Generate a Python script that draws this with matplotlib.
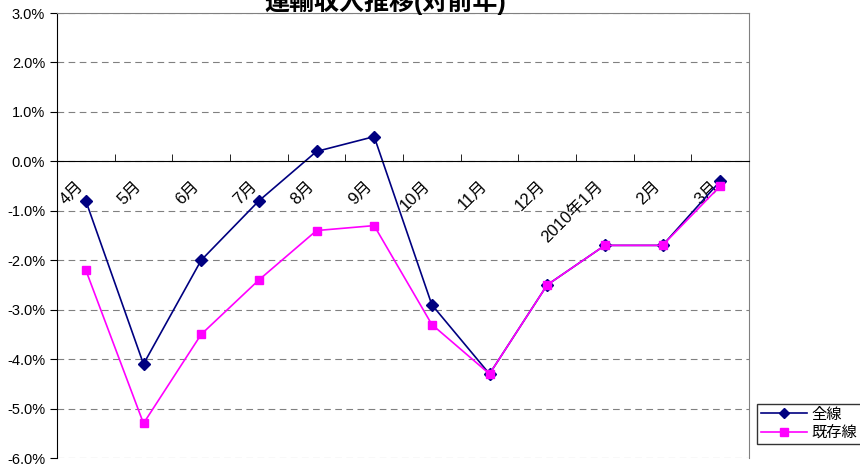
import matplotlib.pyplot as plt
from matplotlib.ticker import FuncFormatter, FixedLocator
import numpy as np

plt.rcParams["font.family"] = ["Liberation Sans", "Noto Sans CJK JP", "DejaVu Sans"]

months = ["4月", "5月", "6月", "7月", "8月", "9月", "10月", "11月", "12月",
          "2010年1月", "2月", "3月"]
zensen = [-0.8, -4.1, -2.0, -0.8, 0.2, 0.5, -2.9, -4.3, -2.5, -1.7, -1.7, -0.4]
kizon = [-2.2, -5.3, -3.5, -2.4, -1.4, -1.3, -3.3, -4.3, -2.5, -1.7, -1.7, -0.5]

fig = plt.figure(figsize=(8.6, 4.66), dpi=100)
ax = fig.add_axes([57 / 860, 1 - 458 / 466, (749 - 57) / 860, (458 - 13) / 466])

x = np.arange(len(months))
ax.plot(x, zensen, color="#000080", marker="D", markersize=6, linewidth=1.2, label="全線")
ax.plot(x, kizon, color="#ff00ff", marker="s", markersize=6, linewidth=1.2, label="既存線")

ax.set_xlim(-0.5, len(months) - 0.5)
ax.set_ylim(-6, 3)
ax.set_yticks(np.arange(-6, 3.01, 1))
ax.yaxis.set_major_formatter(FuncFormatter(lambda v, p: f"{v:.1f}%"))
ax.grid(axis="y", color="#808080", linestyle=(0, (6, 4)), linewidth=0.8)
ax.set_axisbelow(True)

ax.spines["bottom"].set_position(("data", 0))
ax.spines["bottom"].set_color("black")
ax.spines["left"].set_color("black")
for s in ["top", "right"]:
    ax.spines[s].set_color("#808080")

# labels sit a little left of the category centre, as in the original
ax.set_xticks(x - 0.17)
ax.set_xticklabels(months, rotation=45, ha="right", va="top", rotation_mode="anchor")
ax.tick_params(axis="x", which="major", length=0, pad=12, labelsize=12)
ax.xaxis.set_minor_locator(FixedLocator(np.arange(-0.5, len(months), 1)))
ax.tick_params(axis="x", which="minor", direction="in", length=5, color="black")
ax.tick_params(axis="y", direction="out", length=5, labelsize=10.5)

leg = fig.legend(loc="upper left", bbox_to_anchor=(757 / 860, 1 - 404 / 466),
                 fontsize=11, frameon=True, fancybox=False, edgecolor="black",
                 handlelength=3.0, borderpad=0.25, labelspacing=0.25, handletextpad=0.3,
                 borderaxespad=0, markerscale=0.9)
leg.get_frame().set_linewidth(1)

fig.text(0.448, 1 - 2 / 466, "運輸収入推移(対前年)", ha="center", va="center",
         fontsize=18, fontweight="bold")

fig.savefig("out.png", dpi=100)
